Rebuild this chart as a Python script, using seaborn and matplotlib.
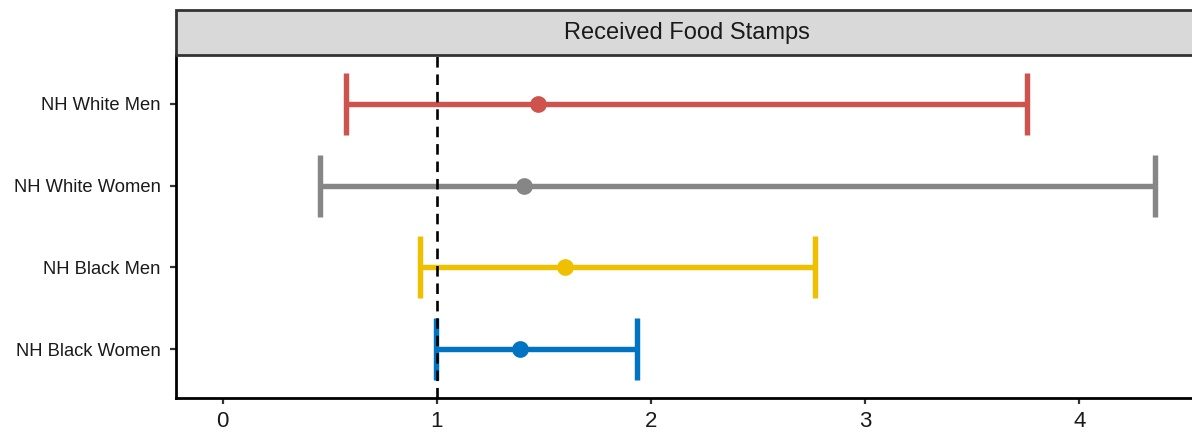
import matplotlib
matplotlib.use("Agg")
import matplotlib.pyplot as plt
from matplotlib.patches import Rectangle
import numpy as np
import pandas as pd
import seaborn as sns

# Odds ratios with 95% CI
groups = ["NH White Men", "NH White Women", "NH Black Men", "NH Black Women"]
estimate = [1.472, 1.407, 1.597, 1.388]
lower = [0.575, 0.453, 0.921, 0.995]
upper = [3.757, 4.355, 2.766, 1.936]
colors = ["#CD534C", "#868686", "#EFC000", "#0073C2"]
panel_title = "Received Food Stamps"
x_ticks = [0, 1, 2, 3, 4]

df = pd.DataFrame({"group": groups, "est": estimate, "lo": lower, "hi": upper})

sns.set_style("white")
plt.rcParams["font.family"] = ["Liberation Sans", "DejaVu Sans"]

fig = plt.figure(figsize=(11.92, 4.36), dpi=100)
ax = fig.add_axes([176 / 1192, 38 / 436, 1026 / 1192, 343 / 436])

pos = np.arange(len(groups))
for i, row in df.iterrows():
    ax.errorbar(
        row["est"], pos[i],
        xerr=[[row["est"] - row["lo"]], [row["hi"] - row["est"]]],
        fmt="none", ecolor=colors[i], elinewidth=3.9,
        capsize=22, capthick=3.9, zorder=2,
    )

sns.pointplot(
    data=df, x="est", y="group", hue="group", palette=colors,
    order=groups, hue_order=groups, orient="h", linestyle="none",
    markers="o", markersize=10, errorbar=None, legend=False, ax=ax,
)
for coll in ax.collections:
    coll.set_zorder(3)
for ln in ax.lines:
    if ln.get_linestyle() == "None":
        ln.set_zorder(3)

# reference line at OR = 1
ax.axvline(1, color="black", linestyle=(0, (4, 2.6)), linewidth=1.9, zorder=4)

ax.set_xlim(-0.218, 4.573)
ax.set_ylim(len(groups) - 0.4, -0.6)
ax.set_xticks(x_ticks)
ax.set_xticklabels([str(t) for t in x_ticks], fontsize=16, color="#1a1a1a")
ax.set_yticks(pos)
ax.set_yticklabels(groups, fontsize=13.2, color="#1a1a1a")
ax.set_xlabel("")
ax.set_ylabel("")
ax.tick_params(axis="both", which="both", length=4, width=1.6, color="#333333",
               left=True, bottom=True, pad=5.5)
ax.tick_params(axis="y", pad=7)

for side in ["top", "right"]:
    ax.spines[side].set_visible(False)
for side in ["left", "bottom"]:
    ax.spines[side].set_color("black")
    ax.spines[side].set_linewidth(2.0)

# facet strip
strip_h = 45 / 343
ax.add_patch(Rectangle((0, 1), 1, strip_h, transform=ax.transAxes,
                       facecolor="#D9D9D9", edgecolor="#333333",
                       linewidth=2.0, clip_on=False, zorder=5))
ax.text(0.5 - 2 / 1026, 1 + strip_h / 2, panel_title, transform=ax.transAxes,
        ha="center", va="center", fontsize=17, color="#1a1a1a", zorder=6)

fig.savefig("out.png", dpi=100)
